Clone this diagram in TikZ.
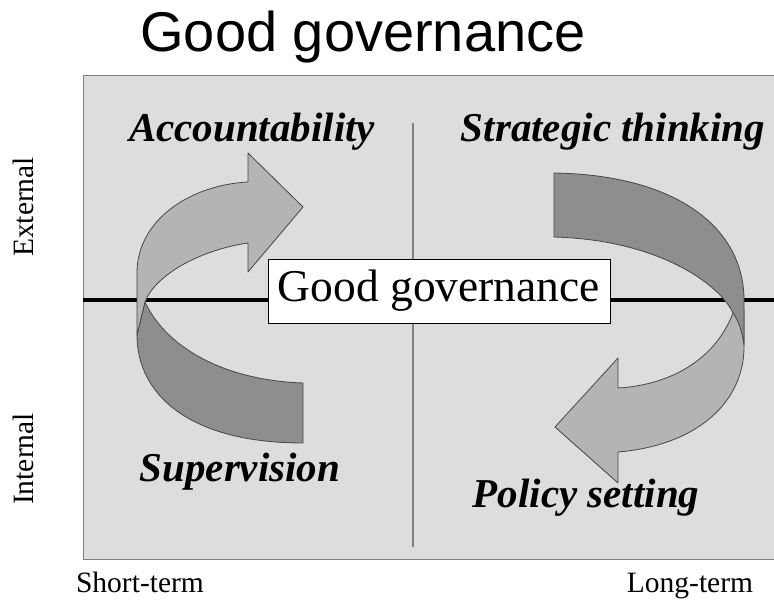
\documentclass[tikz,border=0pt]{standalone}
\usepackage{fontspec}
\setmainfont{Liberation Serif}
\newfontfamily\titlefont{Liberation Sans}
\definecolor{panelgray}{RGB}{221,221,221}
\definecolor{ribbonlight}{RGB}{180,180,180}
\definecolor{ribbondark}{RGB}{142,142,142}
\definecolor{edgegray}{RGB}{70,70,70}
\begin{document}
\begin{tikzpicture}[x=1pt,y=-1pt,
    quadlabel/.style={font=\fontsize{41}{44}\selectfont\bfseries\itshape, anchor=base, inner sep=0pt},
    axislabel/.style={font=\fontsize{29.5}{31}\selectfont, inner sep=0pt},
    ribbon/.style={draw=edgegray, line width=0.8pt, line join=round}]
    \useasboundingbox (0,0) rectangle (774,601);

    \node[font=\titlefont\fontsize{56}{60}\selectfont, anchor=base, inner sep=0pt] (title) at (363,52) {Good governance};

    % panel and the two axes
    \draw[fill=panelgray, draw=gray, line width=1pt] (83,76) rectangle (778,559);
    \coordinate (hleft) at (83,300);
    \coordinate (hright) at (778,300);
    \coordinate (vtop) at (413,123);
    \coordinate (vbot) at (413,547);
    \draw[gray, line width=1.2pt] (vtop) -- (vbot);
    \draw[line width=4pt] (hleft) -- (hright);

    % left ribbon: supervision -> accountability
    \draw[ribbon, fill=ribbondark] (145,302) .. controls (165,345) and (220,380) .. (303,383)
        -- (303,443) .. controls (190,443) and (137,395) .. (137,335) -- cycle;
    \draw[ribbon, fill=ribbonlight] (137,335) -- (137,273) .. controls (137,220) and (190,185) .. (248,182)
        -- (248,153) -- (303,207) -- (248,272) -- (248,243)
        .. controls (200,250) and (155,275) .. (145,302) -- cycle;

    % right ribbon: strategic thinking -> policy setting
    \draw[ribbon, fill=ribbonlight] (733,313) .. controls (715,360) and (670,385) .. (618,388)
        -- (618,358) -- (555,427) -- (618,483) -- (618,452)
        .. controls (700,445) and (744,400) .. (744,347) -- (744,310) -- cycle;
    \draw[ribbon, fill=ribbondark] (554,173) .. controls (680,175) and (744,230) .. (744,300)
        -- (744,345) .. controls (742,330) and (738,320) .. (733,313)
        .. controls (720,285) and (660,240) .. (554,237) -- cycle;

    \node[draw, fill=white, line width=0.8pt, minimum width=342pt, minimum height=64pt,
          font=\fontsize{45.5}{48}\selectfont] (centre) at (439,291) {Good governance};

    \node[quadlabel] (acc) at (252,142) {Accountability};
    \node[quadlabel] (strat) at (613,142) {Strategic thinking};
    \node[quadlabel] (sup) at (240,482) {Supervision};
    \node[quadlabel] (pol) at (586,507) {Policy setting};

    \node[axislabel, anchor=base] (short) at (140,592) {Short-term};
    \node[axislabel, anchor=base] (long) at (690,592) {Long-term};
    \node[axislabel, rotate=90] (ext) at (23,207) {External};
    \node[axislabel, rotate=90] (int) at (23,459) {Internal};
\end{tikzpicture}
\end{document}
